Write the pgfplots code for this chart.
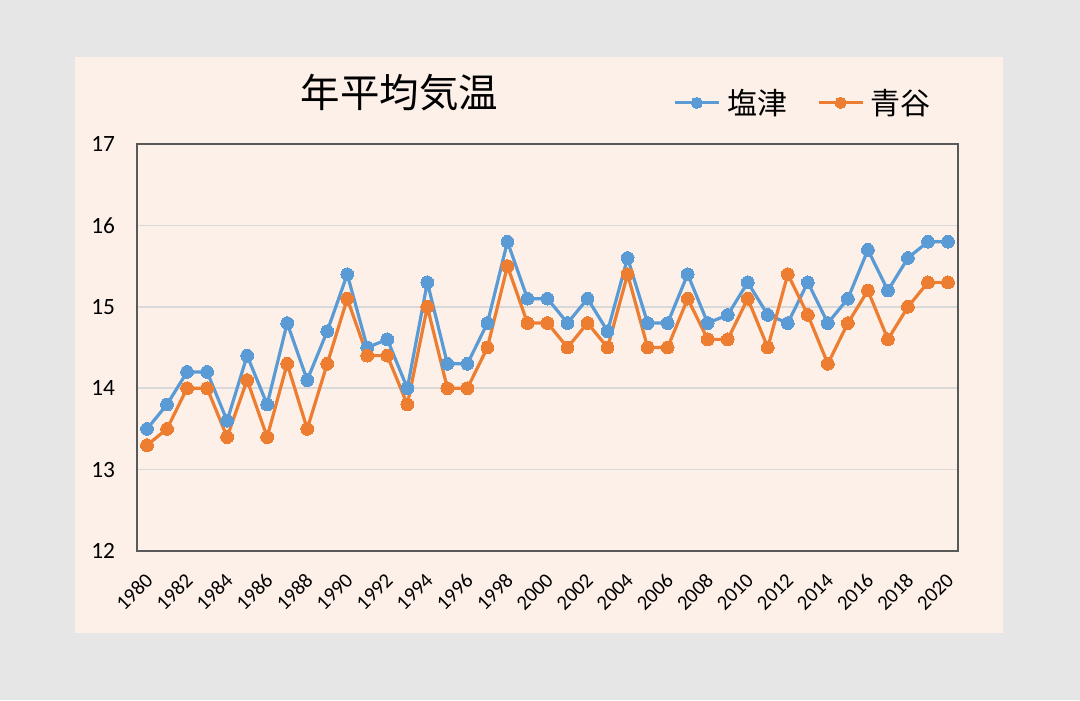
\documentclass[border=0pt]{standalone}
\usepackage{fontspec}
\setmainfont{Carlito}
\newfontfamily\cjk{Noto Sans CJK JP}
\usepackage{pgfplots}
\usepackage{pgfplotstable}
\pgfplotsset{compat=1.18}
\definecolor{bgout}{HTML}{E7E6E6}
\definecolor{panel}{HTML}{FCF0E8}
\definecolor{sblue}{HTML}{5B9BD5}
\definecolor{sorange}{HTML}{ED7D31}
\definecolor{framec}{HTML}{595959}
\definecolor{gridc}{HTML}{D9D9D9}
\pgfplotstableread{
year shiotsu aoya
1980 13.5 13.3
1981 13.8 13.5
1982 14.2 14.0
1983 14.2 14.0
1984 13.6 13.4
1985 14.4 14.1
1986 13.8 13.4
1987 14.8 14.3
1988 14.1 13.5
1989 14.7 14.3
1990 15.4 15.1
1991 14.5 14.4
1992 14.6 14.4
1993 14.0 13.8
1994 15.3 15.0
1995 14.3 14.0
1996 14.3 14.0
1997 14.8 14.5
1998 15.8 15.5
1999 15.1 14.8
2000 15.1 14.8
2001 14.8 14.5
2002 15.1 14.8
2003 14.7 14.5
2004 15.6 15.4
2005 14.8 14.5
2006 14.8 14.5
2007 15.4 15.1
2008 14.8 14.6
2009 14.9 14.6
2010 15.3 15.1
2011 14.9 14.5
2012 14.8 15.4
2013 15.3 14.9
2014 14.8 14.3
2015 15.1 14.8
2016 15.7 15.2
2017 15.2 14.6
2018 15.6 15.0
2019 15.8 15.3
2020 15.8 15.3
}\temps
\begin{document}
\begin{tikzpicture}[x=1pt,y=1pt]
\fill[bgout] (0,0) rectangle (810,525);
\fill[panel] (56.25,50.25) rectangle (752.25,482.25);
\node[font=\cjk\fontsize{29.6}{34}\selectfont, inner sep=0pt] at (299.6,455.6) {年平均気温};
\begin{axis}[
  at={(102.75pt,111.75pt)}, anchor=south west,
  scale only axis, width=615.75pt, height=305.25pt,
  xmin=1979.5, xmax=2020.5, ymin=12, ymax=17,
  ytick={12,13,...,17}, xtick={1980,1982,...,2020},
  ymajorgrids, grid style={gridc, line width=1.2pt},
  axis line style={framec, line width=1.3pt},
  major tick length=0pt,
  /pgf/number format/1000 sep={},
  /pgf/number format/assume math mode=true,
  ticklabel style={text=black},
  yticklabel style={font=\fontsize{17.5}{20}\selectfont, anchor=east, xshift=-13pt},
  xticklabel style={font=\fontsize{15.5}{18}\selectfont, anchor=east, xshift=4pt, yshift=-17pt, rotate=45},
  legend columns=2,
  legend style={at={(0.810,1.101)}, anchor=center, draw=none, fill=none,
    font=\cjk\fontsize{22.5}{26}\selectfont, inner sep=0pt,
    nodes={inner sep=0pt},
    /tikz/every odd column/.append style={column sep=5pt},
    /tikz/every even column/.append style={column sep=22.5pt}},
  legend cell align=left,
  legend image code/.code={\draw[mark repeat=2,mark phase=2,#1,mark size=4.2pt] plot coordinates {(0pt,0pt)(16.5pt,0pt)(33pt,0pt)};},
]
\addplot[sblue, line width=2.4pt, mark=*, mark size=4.8pt, mark options={fill=sblue, draw=sblue, line width=0pt}] table[x=year,y=shiotsu] {\temps};
\addlegendentry{塩津}
\addplot[sorange, line width=2.4pt, mark=*, mark size=4.8pt, mark options={fill=sorange, draw=sorange, line width=0pt}] table[x=year,y=aoya] {\temps};
\addlegendentry{青谷}
\end{axis}
\end{tikzpicture}
\end{document}
